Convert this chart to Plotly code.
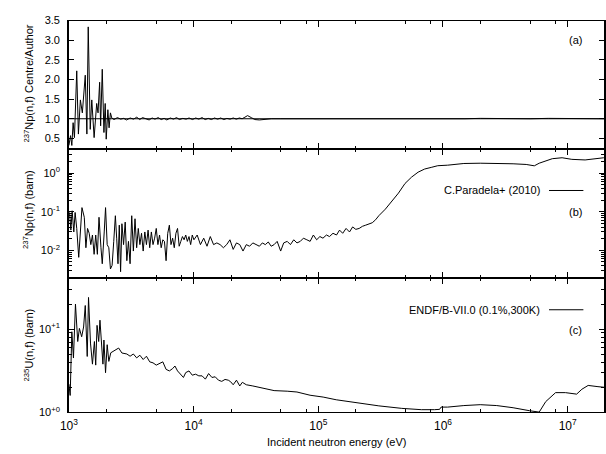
import plotly.graph_objects as go

# ---------------- data ----------------
# Panel (a): ratio 237Np(n,f) Centre/Author
ratio_e = [1000, 1031, 1056, 1081, 1108, 1156, 1192, 1236, 1282, 1353, 1394, 1429, 1483, 1526,
           1593, 1671, 1713, 1764, 1797, 1852, 1910, 1955, 1992, 2054, 2101, 2153, 2208, 2300,
           2450, 2600, 2750, 2900, 3100, 3300, 3500, 3700, 3900, 4150, 4400, 4650, 4900, 5200,
           5500, 5800, 6100, 6500, 6900, 7300, 7700, 8200, 8700, 9200, 9800, 10400, 11000,
           11700, 12400, 13100, 13900, 14700, 15600, 16500, 17500, 18500, 19600, 20800, 22000,
           23300, 24500, 25800, 27100, 29000, 31000, 33700, 37000, 42000, 50000, 70000, 1e5,
           2e5, 4e5, 7e5, 1e6, 1.5e6, 2e6, 3e6, 5e6, 7e6, 1e7, 1.4e7, 2e7]
ratio_v = [0.32, 0.57, 0.32, 0.90, 0.52, 2.22, 0.61, 1.48, 1.15, 2.11, 0.61, 3.34, 0.73, 1.48,
           0.52, 1.39, 1.15, 1.93, 0.82, 2.26, 0.65, 1.39, 0.48, 1.23, 0.77, 1.15, 1.02, 0.98,
           1.03, 0.99, 1.01, 0.97, 1.02, 0.99, 1.04, 0.98, 1.03, 1.00, 0.97, 1.02, 0.99, 1.03,
           0.98, 1.01, 0.97, 1.02, 0.99, 1.03, 0.98, 1.01, 0.99, 1.02, 0.98, 1.02, 0.99,
           1.03, 0.98, 1.01, 0.98, 1.02, 0.99, 1.02, 0.98, 1.01, 0.99, 1.02, 0.99,
           1.02, 1.00, 1.04, 1.08, 1.03, 0.98, 0.97, 0.99, 1.00, 1.00, 1.00, 1.00,
           1.00, 1.00, 0.99, 0.99, 1.00, 1.01, 1.00, 1.00, 1.01, 1.00, 1.00, 1.00]
unity_e = [1e3, 2e7]
unity_v = [1.0, 1.0]

# Panel (b): 237Np(n,f) cross section, C.Paradela+ (2010)
np_e = [1013, 1037, 1062, 1095, 1122, 1156, 1199, 1228, 1273, 1329, 1369, 1411, 1455, 1499,
        1545, 1593, 1641, 1692, 1744, 1808, 1852, 1920, 1968, 2028, 2090, 2154, 2221, 2289,
        2359, 2417, 2476, 2536, 2598, 2662, 2744, 2828, 2915, 3004, 3096, 3191, 3289, 3390,
        3494, 3601, 3711, 3825, 3942, 4063, 4188, 4316, 4449, 4585, 4726, 4871, 5020, 5174,
        5333, 5497, 5665, 5839, 6018, 6203, 6393, 6589, 6791, 7000, 7215, 7436, 7664, 7899,
        8142, 8392, 8649, 8915, 9189, 9471, 9761, 10060, 10685, 11350, 12060, 12810, 13610,
        14460, 15360, 16320, 17340, 18420, 19560, 20780, 22080, 23460, 24910, 26470, 28110,
        29870, 31720, 33710, 35600, 37600, 39700, 41900, 44230, 46800, 49920, 52800, 56330,
        59800, 63560, 67500, 71730, 76000, 80940, 86000, 91330, 97000, 103060, 109000,
        116300, 123000, 131200, 140000, 148100, 157000, 167100, 178000, 188600, 200000,
        212800, 226000, 240200, 255000, 271000, 288000, 305800, 345100, 389500, 439500,
        496000, 559800, 631700, 712900, 804500, 907800, 1.09e6, 1.47e6, 1.99e6, 2.70e6,
        3.65e6, 4.65e6, 5.40e6, 5.91e6, 7.53e6, 9.02e6, 1.08e7, 1.38e7, 1.95e7]
np_xs = [0.096, 0.0335, 0.106, 0.030, 0.096, 0.037, 0.0066, 0.030, 0.128, 0.072, 0.0117, 0.037,
         0.0277, 0.0141, 0.025, 0.0079, 0.025, 0.0079, 0.072, 0.0117, 0.0045, 0.030, 0.128,
         0.0141, 0.0117, 0.0033, 0.0041, 0.0171, 0.079, 0.0207, 0.0045, 0.045, 0.0028, 0.049,
         0.0141, 0.054, 0.0054, 0.0171, 0.0045, 0.079, 0.0096, 0.066, 0.0117, 0.037, 0.0141,
         0.0277, 0.0096, 0.030, 0.0141, 0.0335, 0.0117, 0.030, 0.0141, 0.0207, 0.037, 0.0141,
         0.025, 0.0117, 0.0188, 0.0171, 0.0054, 0.0277, 0.045, 0.0141, 0.0207, 0.0117, 0.0277,
         0.037, 0.0128, 0.0171, 0.0228, 0.0188, 0.025, 0.0171, 0.0228, 0.0141, 0.025, 0.0188,
         0.025, 0.0141, 0.0207, 0.0128, 0.0228, 0.0141, 0.0156, 0.0141, 0.0117, 0.0141,
         0.0188, 0.0106, 0.0156, 0.0141, 0.0096, 0.0141, 0.0128, 0.0156, 0.0141, 0.0128,
         0.0156, 0.0141, 0.0165, 0.0128, 0.0141, 0.0171, 0.0096, 0.0156, 0.0171, 0.0141,
         0.0188, 0.0156, 0.0171, 0.0207, 0.0188, 0.0171, 0.025, 0.0188, 0.0228, 0.0207,
         0.025, 0.0228, 0.0277, 0.025, 0.0335, 0.0277, 0.037, 0.030, 0.0405, 0.035, 0.037,
         0.042, 0.045, 0.048, 0.052, 0.062, 0.079, 0.117, 0.188, 0.304, 0.54, 0.79, 1.06,
         1.28, 1.41, 1.56, 1.61, 1.78, 1.81, 1.81, 1.75, 1.68, 1.55, 1.81, 2.37, 2.51, 2.28,
         2.20, 2.51]

# Panel (c): 235U(n,f) cross section, ENDF/B-VII.0 (0.1%,300K)
u_e = [1000, 1024, 1056, 1088, 1129, 1177, 1214, 1266, 1312, 1353, 1403, 1437, 1490, 1545,
       1602, 1641, 1682, 1734, 1775, 1830, 1875, 1910, 1967, 2028, 2090, 2167, 2289, 2506,
       2662, 2915, 3096, 3289, 3494, 3711, 3942, 4188, 4449, 4726, 5020, 5333, 5665, 6018,
       6393, 6791, 7085, 7436, 7899, 8290, 8649, 9189, 9761, 10370, 11020, 11700, 12430,
       13200, 14030, 14900, 15830, 16820, 17870, 18980, 19800, 20780, 22080, 23460, 24600,
       26470, 29870, 33710, 36900, 44230, 56330, 67460, 85900, 109400, 139300, 188600,
       240200, 305800, 467000, 671000, 855000, 940000, 965000, 1.09e6, 1.47e6, 1.99e6,
       2.70e6, 3.65e6, 4.93e6, 5.91e6, 6.67e6, 8.0e6, 9.6e6, 1.18e7, 1.30e7, 1.46e7,
       1.75e7, 2.0e7]
u_xs = [2.19, 1.6, 9.3, 4.5, 20, 7.1, 10.2, 8.1, 10.6, 19.2, 4.7, 24, 6.8, 3.8, 7.1, 3.7,
        11.1, 7.1, 12.8, 6.2, 3.8, 7.4, 3.0, 6.5, 4.1, 5.2, 5.5, 5.93, 5.17, 5.03, 4.73, 5.03,
        4.52, 4.86, 4.32, 4.73, 4.05, 3.94, 3.70, 3.84, 4.05, 3.29, 3.15, 3.36, 3.61, 3.15,
        2.88, 2.63, 3.01, 3.15, 2.80, 2.88, 2.75, 2.75, 2.51, 2.93, 2.63, 2.68, 2.44, 2.36,
        2.49, 2.44, 2.34, 2.15, 2.44, 2.08, 2.30, 2.15, 2.08, 2.00, 1.92, 1.83, 1.80, 1.76,
        1.61, 1.53, 1.42, 1.33, 1.25, 1.20, 1.12, 1.08, 1.08, 1.09, 1.16, 1.16, 1.21, 1.24,
        1.21, 1.14, 1.05, 1.01, 1.35, 1.73, 1.73, 1.66, 1.90, 2.11, 2.04, 2.00]

x_tick_vals = [1e3, 1e4, 1e5, 1e6, 1e7]
x_tick_text = ["10<sup>3</sup>", "10<sup>4</sup>", "10<sup>5</sup>", "10<sup>6</sup>", "10<sup>7</sup>"]
x_minor_vals = [2e3, 5e3, 8e3, 2e4, 5e4, 8e4, 2e5, 5e5, 8e5, 2e6, 5e6, 8e6, 2e7]
ya_tick_vals = [0.5, 1.0, 1.5, 2.0, 2.5, 3.0, 3.5]
ya_tick_text = ["0.5", "1.0", "1.5", "2.0", "2.5", "3.0", "3.5"]
yb_tick_vals = [0.01, 0.1, 1]
yb_tick_text = ["10<sup>-2</sup>", "10<sup>-1</sup>", "10<sup>0</sup>"]
yc_tick_vals = [1, 10]
yc_tick_text = ["10<sup>+0</sup>", "10<sup>+1</sup>"]
log_minor_vals = [m * 10.0 ** k for k in range(-3, 2) for m in (2, 3, 4, 5, 6, 7, 8, 9)]

assert len(ratio_e) == len(ratio_v)
assert len(np_e) == len(np_xs)
assert len(u_e) == len(u_xs)

# ---------------- figure ----------------
W, H = 606, 454
FONT = "Liberation Sans, Arial, Helvetica, sans-serif"


def py(px):
    return 1 - px / H


line_style = dict(color="black", width=1)
fig = go.Figure()
fig.add_trace(go.Scatter(x=unity_e, y=unity_v, mode="lines", line=line_style, xaxis="x", yaxis="y"))
fig.add_trace(go.Scatter(x=ratio_e, y=ratio_v, mode="lines", line=line_style, xaxis="x", yaxis="y"))
fig.add_trace(go.Scatter(x=np_e, y=np_xs, mode="lines", line=line_style, xaxis="x2", yaxis="y2"))
fig.add_trace(go.Scatter(x=u_e, y=u_xs, mode="lines", line=line_style, xaxis="x3", yaxis="y3"))

xdom = [61 / W, 1.0]
xrange_ = [3, 3 + (W - 61) / 127]


def xax(anchor, labels):
    return dict(type="log", domain=xdom, range=xrange_, anchor=anchor,
                showline=True, linecolor="black", linewidth=1, mirror="ticks",
                ticks="inside", ticklen=6, tickwidth=1, tickcolor="black",
                tickvals=x_tick_vals, ticktext=x_tick_text, showticklabels=labels,
                showgrid=False, zeroline=False, ticklabelstandoff=2,
                tickfont=dict(size=12, family=FONT, color="black"),
                minor=dict(tickvals=x_minor_vals, ticks="inside", ticklen=3,
                           tickwidth=1, tickcolor="black", showgrid=False))


def yax(anchor, dom, **kw):
    d = dict(domain=dom, anchor=anchor, showline=True, linecolor="black", linewidth=1.5,
             mirror="ticks", ticks="inside", ticklen=5, tickwidth=1, tickcolor="black",
             showgrid=False, zeroline=False, ticklabelstandoff=5,
             tickfont=dict(size=11, family=FONT, color="black"))
    d.update(kw)
    return d


fig.update_layout(
    width=W, height=H, margin=dict(l=0, r=0, t=0, b=0),
    paper_bgcolor="white", plot_bgcolor="rgba(0,0,0,0)", showlegend=False,
    font=dict(family=FONT, size=11, color="black"),
    xaxis=xax("y", False),
    xaxis2=xax("y2", False),
    xaxis3=xax("y3", True),
    yaxis=yax("x", [py(147), py(15)], range=[0.227, 3.5],
              tickvals=ya_tick_vals, ticktext=ya_tick_text),
    yaxis2=yax("x2", [py(279), py(147)], type="log", range=[-2.706, 0.623],
               tickvals=yb_tick_vals, ticktext=yb_tick_text,
               minor=dict(tickvals=log_minor_vals, ticks="inside", ticklen=3,
                          tickcolor="black", showgrid=False)),
    yaxis3=yax("x3", [py(417.5), py(279)], type="log", range=[0, 1.618],
               tickvals=yc_tick_vals, ticktext=yc_tick_text,
               minor=dict(tickvals=log_minor_vals, ticks="inside", ticklen=3,
                          tickcolor="black", showgrid=False)),
)

ann = []


def text_at(x, y, s, xanchor="center", angle=0, size=11):
    ann.append(dict(x=x / W, y=py(y), xref="paper", yref="paper", text=s, showarrow=False,
                    xanchor=xanchor, yanchor="middle", textangle=angle,
                    font=dict(size=size, family=FONT, color="black")))


text_at(20, 80, "<sup>237</sup>Np(n,f) Centre/Author", angle=-90)
text_at(20, 209, "<sup>237</sup>Np(n,f) (barn)", angle=-90)
text_at(20, 348, "<sup>235</sup>U(n,f) (barn)", angle=-90)
text_at(334, 448, "Incident neutron energy (eV)")
text_at(577, 35, "(a)")
text_at(577, 212, "(b)")
text_at(577, 333, "(c)")
text_at(543, 189, "C.Paradela+ (2010)", xanchor="right")
text_at(543, 312, "ENDF/B-VII.0 (0.1%,300K)", xanchor="right")
fig.update_layout(annotations=ann)

for yy in (189.5, 312):
    fig.add_shape(type="line", xref="paper", yref="paper", x0=550 / W, x1=585 / W,
                  y0=py(yy), y1=py(yy), line=dict(color="black", width=1))

fig.write_html("out.html")
